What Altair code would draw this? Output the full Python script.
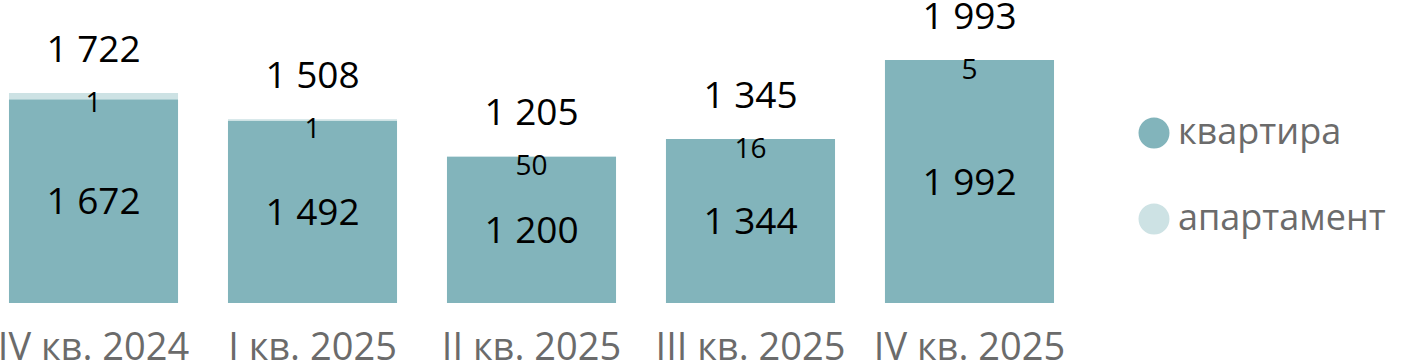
import altair as alt
import pandas as pd

quarters = ["IV кв. 2024", "I кв. 2025", "II кв. 2025", "III кв. 2025", "IV кв. 2025"]
flat_values = [1672, 1492, 1200, 1344, 1992]
apart_values = [50, 16, 5, 1, 1]
apart_labels = ["1", "1", "50", "16", "5"]
series = ["квартира", "апартамент"]
colors = ["#82b4bb", "#cde2e4"]

FONT = "Open Sans"


def fmt(v):
    return f"{v:,}".replace(",", " ")


rows = []
for q, f, a in zip(quarters, flat_values, apart_values):
    rows.append({"q": q, "series": series[0], "value": f, "ord": 0})
    rows.append({"q": q, "series": series[1], "value": a, "ord": 1})
bars_df = pd.DataFrame(rows)

lab_df = pd.DataFrame({
    "q": quarters,
    "flat": flat_values,
    "flat_mid": [f / 2 for f in flat_values],
    "flat_txt": [fmt(f) for f in flat_values],
    "total": [f + a for f, a in zip(flat_values, apart_values)],
    "total_txt": [fmt(f + a) for f, a in zip(flat_values, apart_values)],
    "apart_txt": apart_labels,
})

xenc = alt.X(
    "q:N",
    sort=quarters,
    title=None,
    scale=alt.Scale(paddingInner=0.228, paddingOuter=0.041),
    axis=alt.Axis(
        domain=False, ticks=False, tickSize=0, labelAngle=0,
        labelFont=FONT, labelFontSize=38, labelColor="#6b6b6b",
        labelPadding=26, grid=False, labelLimit=0, labelOverlap=False,
    ),
)
yscale = alt.Scale(domain=[0, 2485], nice=False, zero=True)

bars = alt.Chart(bars_df).mark_bar().encode(
    x=xenc,
    y=alt.Y("sum(value):Q", stack="zero", scale=yscale, axis=None, title=None),
    color=alt.Color(
        "series:N",
        scale=alt.Scale(domain=series, range=colors),
        sort=series,
        title=None,
        legend=alt.Legend(
            orient="none", legendX=1136, legendY=115,
            symbolType="circle", symbolSize=960, symbolStrokeWidth=0,
            labelFont=FONT, labelFontSize=36, labelColor="#6b6b6b",
            labelOffset=6, rowPadding=50, direction="vertical", labelLimit=0,
        ),
    ),
    order=alt.Order("ord:Q", sort="ascending"),
)

base = alt.Chart(lab_df).encode(x=alt.X("q:N", sort=quarters))

total_text = base.mark_text(
    font=FONT, fontSize=37, color="black", baseline="middle", dy=-42
).encode(y=alt.Y("total:Q", scale=yscale), text="total_txt:N")

apart_text = base.mark_text(
    font=FONT, fontSize=28, color="black", baseline="middle", dy=11
).encode(y=alt.Y("total:Q", scale=yscale), text="apart_txt:N")

flat_text = base.mark_text(
    font=FONT, fontSize=37, color="black", baseline="middle", dy=2
).encode(y=alt.Y("flat_mid:Q", scale=yscale), text="flat_txt:N")

chart = alt.layer(bars, total_text, apart_text, flat_text).properties(
    width=1063,
    height=303,
    background="white",
    autosize=alt.AutoSizeParams(type="none"),
    padding={"left": 0, "top": 0, "right": 345, "bottom": 61},
).configure_view(stroke=None)

chart.save("out.html", embed_options={"renderer": "svg", "actions": False})
